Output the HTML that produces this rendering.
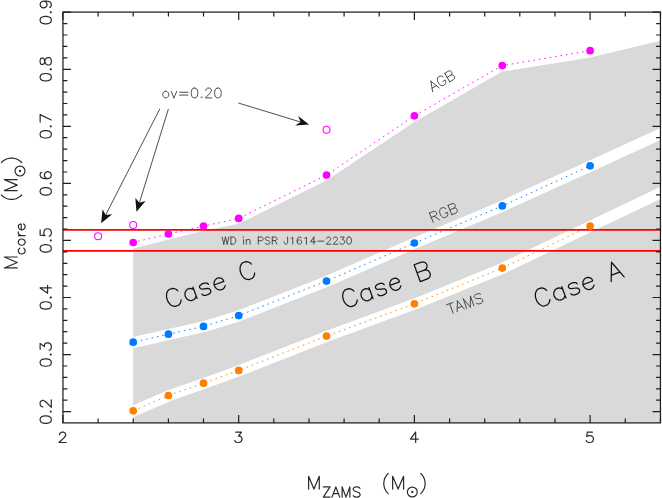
<!DOCTYPE html>
<html><head><meta charset="utf-8"><title>Core mass vs ZAMS mass</title>
<style>html,body{margin:0;padding:0;background:#fff}body{width:662px;height:498px;overflow:hidden;font-family:"Liberation Sans",sans-serif}</style>
</head><body>
<svg width="662" height="498" viewBox="0 0 662 498" style="display:block" role="img" aria-label="Core mass versus ZAMS mass">
<defs><clipPath id="c"><rect x="62.95" y="12.1" width="597.5" height="410.8"/></clipPath><clipPath id="g"><rect x="133.2" y="12.1" width="527.3" height="410.8"/></clipPath></defs>
<title>M_core (M_sun) versus M_ZAMS (M_sun): AGB, RGB and TAMS core masses with Case A, Case B, Case C regions; WD in PSR J1614-2230; ov=0.20</title>
<rect width="662" height="498" fill="#fff"/>
<g clip-path="url(#c)">
<path d="M133.2,248.6 L203.5,230.8 L238.6,223.7 L326.6,180.6 L414.4,121.9 L502.3,71.6 L590.2,57.4 L660.5,40.8 L660.5,422.9 L133.2,422.9Z" fill="#d9d9d9"/>
</g><g clip-path="url(#g)">
<path d="M129.2,343.5 L133.2,342.6 L168.4,334.6 L203.5,326.8 L238.7,316.0 L326.5,281.5 L414.4,243.3 L502.3,206.2 L590.1,166.2 L666.5,131.3" fill="none" stroke="#fff" stroke-width="10.9" stroke-linejoin="round"/>
<path d="M129.2,412.9 L133.2,411.2 L168.4,395.9 L203.5,383.6 L238.7,370.8 L326.5,336.5 L414.4,304.2 L502.3,268.5 L590.1,226.4 L666.5,190.0" fill="none" stroke="#fff" stroke-width="10.9" stroke-linejoin="round"/>
</g>
<path d="M133.2,242.5 L168.4,234.0 L203.5,226.1 L238.7,218.4 L326.5,175.1 L414.4,115.8 L502.3,65.6 L590.1,50.7" fill="none" stroke="#ff00ff" stroke-width="0.95" stroke-dasharray="1.5 4" stroke-dashoffset="0.6"/>
<path d="M133.2,342.2 L168.4,334.2 L203.5,326.4 L238.7,315.6 L326.5,281.1 L414.4,243.0 L502.3,205.9 L590.1,165.8" fill="none" stroke="#007aff" stroke-width="0.95" stroke-dasharray="1.5 4" stroke-dashoffset="-2.35"/>
<path d="M133.2,410.8 L168.4,395.5 L203.5,383.2 L238.7,370.4 L326.5,336.1 L414.4,303.8 L502.3,268.1 L590.1,226.1" fill="none" stroke="#ff8000" stroke-width="0.95" stroke-dasharray="1.5 4" stroke-dashoffset="-0.4"/>
<line x1="62.95" x2="660.5" y1="229.9" y2="229.9" stroke="#ff0000" stroke-width="1.85"/>
<line x1="62.95" x2="660.5" y1="250.8" y2="250.8" stroke="#ff0000" stroke-width="1.85"/>
<circle cx="133.2" cy="242.5" r="3.85" fill="#ff00ff"/>
<circle cx="168.4" cy="234.0" r="3.85" fill="#ff00ff"/>
<circle cx="203.5" cy="226.1" r="3.85" fill="#ff00ff"/>
<circle cx="238.7" cy="218.4" r="3.85" fill="#ff00ff"/>
<circle cx="326.5" cy="175.1" r="3.85" fill="#ff00ff"/>
<circle cx="414.4" cy="115.8" r="3.85" fill="#ff00ff"/>
<circle cx="502.3" cy="65.6" r="3.85" fill="#ff00ff"/>
<circle cx="590.1" cy="50.7" r="3.85" fill="#ff00ff"/>
<circle cx="133.2" cy="342.2" r="3.85" fill="#007aff"/>
<circle cx="168.4" cy="334.2" r="3.85" fill="#007aff"/>
<circle cx="203.5" cy="326.4" r="3.85" fill="#007aff"/>
<circle cx="238.7" cy="315.6" r="3.85" fill="#007aff"/>
<circle cx="326.5" cy="281.1" r="3.85" fill="#007aff"/>
<circle cx="414.4" cy="243.0" r="3.85" fill="#007aff"/>
<circle cx="502.3" cy="205.9" r="3.85" fill="#007aff"/>
<circle cx="590.1" cy="165.8" r="3.85" fill="#007aff"/>
<circle cx="133.2" cy="410.8" r="3.85" fill="#ff8000"/>
<circle cx="168.4" cy="395.5" r="3.85" fill="#ff8000"/>
<circle cx="203.5" cy="383.2" r="3.85" fill="#ff8000"/>
<circle cx="238.7" cy="370.4" r="3.85" fill="#ff8000"/>
<circle cx="326.5" cy="336.1" r="3.85" fill="#ff8000"/>
<circle cx="414.4" cy="303.8" r="3.85" fill="#ff8000"/>
<circle cx="502.3" cy="268.1" r="3.85" fill="#ff8000"/>
<circle cx="590.1" cy="226.1" r="3.85" fill="#ff8000"/>
<circle cx="98.1" cy="236.2" r="3.5" fill="none" stroke="#ff00ff" stroke-width="1.05"/>
<circle cx="133.2" cy="225.0" r="3.5" fill="none" stroke="#ff00ff" stroke-width="1.05"/>
<circle cx="326.5" cy="129.7" r="3.5" fill="none" stroke="#ff00ff" stroke-width="1.05"/>
<path d="M62.9,422.9v-8M62.9,12.1v8M98.1,422.9v-4.4M98.1,12.1v4.4M133.2,422.9v-4.4M133.2,12.1v4.4M168.4,422.9v-4.4M168.4,12.1v4.4M203.5,422.9v-4.4M203.5,12.1v4.4M238.7,422.9v-8M238.7,12.1v8M273.8,422.9v-4.4M273.8,12.1v4.4M309.0,422.9v-4.4M309.0,12.1v4.4M344.1,422.9v-4.4M344.1,12.1v4.4M379.2,422.9v-4.4M379.2,12.1v4.4M414.4,422.9v-8M414.4,12.1v8M449.6,422.9v-4.4M449.6,12.1v4.4M484.7,422.9v-4.4M484.7,12.1v4.4M519.8,422.9v-4.4M519.8,12.1v4.4M555.0,422.9v-4.4M555.0,12.1v4.4M590.1,422.9v-8M590.1,12.1v8M625.3,422.9v-4.4M625.3,12.1v4.4M660.5,422.9v-4.4M660.5,12.1v4.4M62.95,411.6h8M660.5,411.6h-8M62.95,400.2h4.4M660.5,400.2h-4.4M62.95,388.8h4.4M660.5,388.8h-4.4M62.95,377.4h4.4M660.5,377.4h-4.4M62.95,366.0h4.4M660.5,366.0h-4.4M62.95,354.6h8M660.5,354.6h-8M62.95,343.1h4.4M660.5,343.1h-4.4M62.95,331.7h4.4M660.5,331.7h-4.4M62.95,320.3h4.4M660.5,320.3h-4.4M62.95,308.9h4.4M660.5,308.9h-4.4M62.95,297.5h8M660.5,297.5h-8M62.95,286.1h4.4M660.5,286.1h-4.4M62.95,274.7h4.4M660.5,274.7h-4.4M62.95,263.3h4.4M660.5,263.3h-4.4M62.95,251.9h4.4M660.5,251.9h-4.4M62.95,240.4h8M660.5,240.4h-8M62.95,229.0h4.4M660.5,229.0h-4.4M62.95,217.6h4.4M660.5,217.6h-4.4M62.95,206.2h4.4M660.5,206.2h-4.4M62.95,194.8h4.4M660.5,194.8h-4.4M62.95,183.4h8M660.5,183.4h-8M62.95,172.0h4.4M660.5,172.0h-4.4M62.95,160.6h4.4M660.5,160.6h-4.4M62.95,149.1h4.4M660.5,149.1h-4.4M62.95,137.7h4.4M660.5,137.7h-4.4M62.95,126.3h8M660.5,126.3h-8M62.95,114.9h4.4M660.5,114.9h-4.4M62.95,103.5h4.4M660.5,103.5h-4.4M62.95,92.1h4.4M660.5,92.1h-4.4M62.95,80.7h4.4M660.5,80.7h-4.4M62.95,69.3h8M660.5,69.3h-8M62.95,57.8h4.4M660.5,57.8h-4.4M62.95,46.4h4.4M660.5,46.4h-4.4M62.95,35.0h4.4M660.5,35.0h-4.4M62.95,23.6h4.4M660.5,23.6h-4.4M62.95,12.2h8M660.5,12.2h-8" stroke="#1f1f1f" stroke-width="1.2" fill="none"/>
<rect x="62.95" y="12.1" width="597.5" height="410.8" fill="none" stroke="#1f1f1f" stroke-width="1.25"/>
<line x1="159.8" y1="108.9" x2="105.7" y2="215.0" stroke="#222" stroke-width="0.8"/>
<path d="M101.1,223.2 L102.6,209.2 L105.7,215.0 L112.2,214.2Z" fill="#111"/>
<line x1="168.4" y1="109.0" x2="139.4" y2="202.7" stroke="#222" stroke-width="0.8"/>
<path d="M136.5,211.8 L135.3,197.9 L139.4,202.7 L145.6,201.1Z" fill="#111"/>
<line x1="238.3" y1="103.0" x2="300.6" y2="122.0" stroke="#222" stroke-width="0.8"/>
<path d="M309.0,124.5 L298.2,115.9 L300.6,122.0 L295.2,125.6Z" fill="#111"/>
<path transform="translate(62.60,442.50) scale(0.52,0.49) translate(-10.0,0)" d="M4,-16 4,-17 5,-19 6,-20 8,-21 12,-21 14,-20 15,-19 16,-17 16,-15 15,-13 13,-10 3,0 17,0" fill="none" stroke="#2a2a2a" stroke-width="1.2" stroke-linecap="round" stroke-linejoin="round" vector-effect="non-scaling-stroke"/>
<path transform="translate(238.35,442.50) scale(0.52,0.49) translate(-10.0,0)" d="M5,-21 16,-21 10,-13 13,-13 15,-12 16,-11 17,-8 17,-6 16,-3 14,-1 11,0 8,0 5,-1 4,-2 3,-4" fill="none" stroke="#2a2a2a" stroke-width="1.2" stroke-linecap="round" stroke-linejoin="round" vector-effect="non-scaling-stroke"/>
<path transform="translate(414.10,442.50) scale(0.52,0.49) translate(-10.0,0)" d="M13,-21 3,-7 18,-7M13,-21 13,0" fill="none" stroke="#2a2a2a" stroke-width="1.2" stroke-linecap="round" stroke-linejoin="round" vector-effect="non-scaling-stroke"/>
<path transform="translate(589.85,442.50) scale(0.52,0.49) translate(-10.0,0)" d="M15,-21 5,-21 4,-12 5,-13 8,-14 11,-14 14,-13 16,-11 17,-8 17,-6 16,-3 14,-1 11,0 8,0 5,-1 4,-2 3,-4" fill="none" stroke="#2a2a2a" stroke-width="1.2" stroke-linecap="round" stroke-linejoin="round" vector-effect="non-scaling-stroke"/>
<path transform="translate(51.30,411.62) rotate(-90) scale(0.532) translate(-25.0,0)" d="M9,-21 6,-20 4,-17 3,-12 3,-9 4,-4 6,-1 9,0 11,0 14,-1 16,-4 17,-9 17,-12 16,-17 14,-20 11,-21 9,-21M25,-2 24,-1 25,0 26,-1 25,-2M34,-16 34,-17 35,-19 36,-20 38,-21 42,-21 44,-20 45,-19 46,-17 46,-15 45,-13 43,-10 33,0 47,0" fill="none" stroke="#2a2a2a" stroke-width="1.2" stroke-linecap="round" stroke-linejoin="round" vector-effect="non-scaling-stroke"/>
<path transform="translate(51.30,354.56) rotate(-90) scale(0.532) translate(-25.0,0)" d="M9,-21 6,-20 4,-17 3,-12 3,-9 4,-4 6,-1 9,0 11,0 14,-1 16,-4 17,-9 17,-12 16,-17 14,-20 11,-21 9,-21M25,-2 24,-1 25,0 26,-1 25,-2M35,-21 46,-21 40,-13 43,-13 45,-12 46,-11 47,-8 47,-6 46,-3 44,-1 41,0 38,0 35,-1 34,-2 33,-4" fill="none" stroke="#2a2a2a" stroke-width="1.2" stroke-linecap="round" stroke-linejoin="round" vector-effect="non-scaling-stroke"/>
<path transform="translate(51.30,297.50) rotate(-90) scale(0.532) translate(-25.0,0)" d="M9,-21 6,-20 4,-17 3,-12 3,-9 4,-4 6,-1 9,0 11,0 14,-1 16,-4 17,-9 17,-12 16,-17 14,-20 11,-21 9,-21M25,-2 24,-1 25,0 26,-1 25,-2M43,-21 33,-7 48,-7M43,-21 43,0" fill="none" stroke="#2a2a2a" stroke-width="1.2" stroke-linecap="round" stroke-linejoin="round" vector-effect="non-scaling-stroke"/>
<path transform="translate(51.30,240.44) rotate(-90) scale(0.532) translate(-25.0,0)" d="M9,-21 6,-20 4,-17 3,-12 3,-9 4,-4 6,-1 9,0 11,0 14,-1 16,-4 17,-9 17,-12 16,-17 14,-20 11,-21 9,-21M25,-2 24,-1 25,0 26,-1 25,-2M45,-21 35,-21 34,-12 35,-13 38,-14 41,-14 44,-13 46,-11 47,-8 47,-6 46,-3 44,-1 41,0 38,0 35,-1 34,-2 33,-4" fill="none" stroke="#2a2a2a" stroke-width="1.2" stroke-linecap="round" stroke-linejoin="round" vector-effect="non-scaling-stroke"/>
<path transform="translate(51.30,183.38) rotate(-90) scale(0.532) translate(-25.0,0)" d="M9,-21 6,-20 4,-17 3,-12 3,-9 4,-4 6,-1 9,0 11,0 14,-1 16,-4 17,-9 17,-12 16,-17 14,-20 11,-21 9,-21M25,-2 24,-1 25,0 26,-1 25,-2M46,-18 45,-20 42,-21 40,-21 37,-20 35,-17 34,-12 34,-7 35,-3 37,-1 40,0 41,0 44,-1 46,-3 47,-6 47,-7 46,-10 44,-12 41,-13 40,-13 37,-12 35,-10 34,-7" fill="none" stroke="#2a2a2a" stroke-width="1.2" stroke-linecap="round" stroke-linejoin="round" vector-effect="non-scaling-stroke"/>
<path transform="translate(51.30,126.32) rotate(-90) scale(0.532) translate(-25.0,0)" d="M9,-21 6,-20 4,-17 3,-12 3,-9 4,-4 6,-1 9,0 11,0 14,-1 16,-4 17,-9 17,-12 16,-17 14,-20 11,-21 9,-21M25,-2 24,-1 25,0 26,-1 25,-2M47,-21 37,0M33,-21 47,-21" fill="none" stroke="#2a2a2a" stroke-width="1.2" stroke-linecap="round" stroke-linejoin="round" vector-effect="non-scaling-stroke"/>
<path transform="translate(51.30,69.26) rotate(-90) scale(0.532) translate(-25.0,0)" d="M9,-21 6,-20 4,-17 3,-12 3,-9 4,-4 6,-1 9,0 11,0 14,-1 16,-4 17,-9 17,-12 16,-17 14,-20 11,-21 9,-21M25,-2 24,-1 25,0 26,-1 25,-2M38,-21 35,-20 34,-18 34,-16 35,-14 37,-13 41,-12 44,-11 46,-9 47,-7 47,-4 46,-2 45,-1 42,0 38,0 35,-1 34,-2 33,-4 33,-7 34,-9 36,-11 39,-12 43,-13 45,-14 46,-16 46,-18 45,-20 42,-21 38,-21" fill="none" stroke="#2a2a2a" stroke-width="1.2" stroke-linecap="round" stroke-linejoin="round" vector-effect="non-scaling-stroke"/>
<path transform="translate(51.30,12.20) rotate(-90) scale(0.532) translate(-25.0,0)" d="M9,-21 6,-20 4,-17 3,-12 3,-9 4,-4 6,-1 9,0 11,0 14,-1 16,-4 17,-9 17,-12 16,-17 14,-20 11,-21 9,-21M25,-2 24,-1 25,0 26,-1 25,-2M46,-14 45,-11 43,-9 40,-8 39,-8 36,-9 34,-11 33,-14 33,-15 34,-18 36,-20 39,-21 40,-21 43,-20 45,-18 46,-14 46,-9 45,-4 43,-1 40,0 38,0 35,-1 34,-3" fill="none" stroke="#2a2a2a" stroke-width="1.2" stroke-linecap="round" stroke-linejoin="round" vector-effect="non-scaling-stroke"/>
<path transform="translate(305.94,489.10) scale(0.667,0.612)" d="M4,-21 4,0M4,-21 12,0M20,-21 12,0M20,-21 20,0" fill="none" stroke="#2a2a2a" stroke-width="1.2" stroke-linecap="round" stroke-linejoin="round" vector-effect="non-scaling-stroke"/>
<path transform="translate(321.85,497.10) scale(0.483)" d="M17,-21 3,0M3,-21 17,-21M3,0 17,0M29,-21 21,0M29,-21 37,0M24,-7 34,-7M42,-21 42,0M42,-21 50,0M58,-21 50,0M58,-21 58,0M79,-18 77,-20 74,-21 70,-21 67,-20 65,-18 65,-16 66,-14 67,-13 69,-12 75,-10 77,-9 78,-8 79,-6 79,-3 77,-1 74,0 70,0 67,-1 65,-3" fill="none" stroke="#2a2a2a" stroke-width="1.2" stroke-linecap="round" stroke-linejoin="round" vector-effect="non-scaling-stroke"/>
<path transform="translate(381.30,489.20) scale(0.63)" d="M11,-25 9,-23 7,-20 5,-16 4,-11 4,-7 5,-2 7,2 9,5 11,7" fill="none" stroke="#2a2a2a" stroke-width="1.2" stroke-linecap="round" stroke-linejoin="round" vector-effect="non-scaling-stroke"/>
<path transform="translate(389.90,489.10) scale(0.684,0.612)" d="M4,-21 4,0M4,-21 12,0M20,-21 12,0M20,-21 20,0" fill="none" stroke="#2a2a2a" stroke-width="1.2" stroke-linecap="round" stroke-linejoin="round" vector-effect="non-scaling-stroke"/>
<circle cx="412.3" cy="492.0" r="4.95" fill="none" stroke="#2a2a2a" stroke-width="1.15"/><circle cx="412.3" cy="492.0" r="1.15" fill="#2a2a2a"/>
<path transform="translate(418.80,489.20) scale(0.63)" d="M3,-25 5,-23 7,-20 9,-16 10,-11 10,-7 9,-2 7,2 5,5 3,7" fill="none" stroke="#2a2a2a" stroke-width="1.2" stroke-linecap="round" stroke-linejoin="round" vector-effect="non-scaling-stroke"/>
<g transform="translate(17.2,270.5) rotate(-90)">
<path transform="translate(-0.20,0.00) scale(0.684,0.612)" d="M4,-21 4,0M4,-21 12,0M20,-21 12,0M20,-21 20,0" fill="none" stroke="#2a2a2a" stroke-width="1.2" stroke-linecap="round" stroke-linejoin="round" vector-effect="non-scaling-stroke"/>
<path transform="translate(15.10,7.90) scale(0.483)" d="M15,-11 13,-13 11,-14 8,-14 6,-13 4,-11 3,-8 3,-6 4,-3 6,-1 8,0 11,0 13,-1 15,-3M26,-14 24,-13 22,-11 21,-8 21,-6 22,-3 24,-1 26,0 29,0 31,-1 33,-3 34,-6 34,-8 33,-11 31,-13 29,-14 26,-14M41,-14 41,0M41,-8 42,-11 44,-13 46,-14 49,-14M53,-8 65,-8 65,-10 64,-12 63,-13 61,-14 58,-14 56,-13 54,-11 53,-8 53,-6 54,-3 56,-1 58,0 61,0 63,-1 65,-3" fill="none" stroke="#2a2a2a" stroke-width="1.2" stroke-linecap="round" stroke-linejoin="round" vector-effect="non-scaling-stroke"/>
<path transform="translate(68.60,0.00) scale(0.63)" d="M11,-25 9,-23 7,-20 5,-16 4,-11 4,-7 5,-2 7,2 9,5 11,7" fill="none" stroke="#2a2a2a" stroke-width="1.2" stroke-linecap="round" stroke-linejoin="round" vector-effect="non-scaling-stroke"/>
<path transform="translate(77.20,0.00) scale(0.684,0.612)" d="M4,-21 4,0M4,-21 12,0M20,-21 12,0M20,-21 20,0" fill="none" stroke="#2a2a2a" stroke-width="1.2" stroke-linecap="round" stroke-linejoin="round" vector-effect="non-scaling-stroke"/>
<circle cx="99.5" cy="2.8" r="4.95" fill="none" stroke="#2a2a2a" stroke-width="1.15"/><circle cx="99.5" cy="2.8" r="1.15" fill="#2a2a2a"/>
<path transform="translate(106.10,0.00) scale(0.63)" d="M3,-25 5,-23 7,-20 9,-16 10,-11 10,-7 9,-2 7,2 5,5 3,7" fill="none" stroke="#2a2a2a" stroke-width="1.2" stroke-linecap="round" stroke-linejoin="round" vector-effect="non-scaling-stroke"/>
</g>
<path transform="translate(161.30,97.90) scale(0.468)" d="M8,-14 6,-13 4,-11 3,-8 3,-6 4,-3 6,-1 8,0 11,0 13,-1 15,-3 16,-6 16,-8 15,-11 13,-13 11,-14 8,-14M21,-14 27,0M33,-14 27,0M39,-12 57,-12M39,-6 57,-6M70,-21 67,-20 65,-17 64,-12 64,-9 65,-4 67,-1 70,0 72,0 75,-1 77,-4 78,-9 78,-12 77,-17 75,-20 72,-21 70,-21M86,-2 85,-1 86,0 87,-1 86,-2M95,-16 95,-17 96,-19 97,-20 99,-21 103,-21 105,-20 106,-19 107,-17 107,-15 106,-13 104,-10 94,0 108,0M120,-21 117,-20 115,-17 114,-12 114,-9 115,-4 117,-1 120,0 122,0 125,-1 127,-4 128,-9 128,-12 127,-17 125,-20 122,-21 120,-21" fill="none" stroke="#3a3a3a" stroke-width="0.9" stroke-linecap="round" stroke-linejoin="round" vector-effect="non-scaling-stroke"/>
<path transform="translate(221.40,244.20) scale(0.3414)" d="M2,-21 7,0M12,-21 7,0M12,-21 17,0M22,-21 17,0M28,-21 28,0M28,-21 35,-21 38,-20 40,-18 41,-16 42,-13 42,-8 41,-5 40,-3 38,-1 35,0 28,0M64,-21 65,-20 66,-21 65,-22 64,-21M65,-14 65,0M73,-14 73,0M73,-10 76,-13 78,-14 81,-14 83,-13 84,-10 84,0M108,-21 108,0M108,-21 117,-21 120,-20 121,-19 122,-17 122,-14 121,-12 120,-11 117,-10 108,-10M142,-18 140,-20 137,-21 133,-21 130,-20 128,-18 128,-16 129,-14 130,-13 132,-12 138,-10 140,-9 141,-8 142,-6 142,-3 140,-1 137,0 133,0 130,-1 128,-3M149,-21 149,0M149,-21 158,-21 161,-20 162,-19 163,-17 163,-15 162,-13 161,-12 158,-11 149,-11M156,-11 163,0M194,-21 194,-5 193,-2 192,-1 190,0 188,0 186,-1 185,-2 184,-5 184,-7M204,-17 206,-18 209,-21 209,0M234,-18 233,-20 230,-21 228,-21 225,-20 223,-17 222,-12 222,-7 223,-3 225,-1 228,0 229,0 232,-1 234,-3 235,-6 235,-7 234,-10 232,-12 229,-13 228,-13 225,-12 223,-10 222,-7M244,-17 246,-18 249,-21 249,0M271,-21 261,-7 276,-7M271,-21 271,0M282,-9 300,-9M308,-16 308,-17 309,-19 310,-20 312,-21 316,-21 318,-20 319,-19 320,-17 320,-15 319,-13 317,-10 307,0 321,0M328,-16 328,-17 329,-19 330,-20 332,-21 336,-21 338,-20 339,-19 340,-17 340,-15 339,-13 337,-10 327,0 341,0M349,-21 360,-21 354,-13 357,-13 359,-12 360,-11 361,-8 361,-6 360,-3 358,-1 355,0 352,0 349,-1 348,-2 347,-4M373,-21 370,-20 368,-17 367,-12 367,-9 368,-4 370,-1 373,0 375,0 378,-1 380,-4 381,-9 381,-12 380,-17 378,-20 375,-21 373,-21" fill="none" stroke="#3a3a3a" stroke-width="0.9" stroke-linecap="round" stroke-linejoin="round" vector-effect="non-scaling-stroke"/>
<path transform="translate(432.20,91.90) rotate(-30) scale(0.47)" d="M9,-21 1,0M9,-21 17,0M4,-7 14,-7M36,-16 35,-18 33,-20 31,-21 27,-21 25,-20 23,-18 22,-16 21,-13 21,-8 22,-5 23,-3 25,-1 27,0 31,0 33,-1 35,-3 36,-5 36,-8M31,-8 36,-8M43,-21 43,0M43,-21 52,-21 55,-20 56,-19 57,-17 57,-15 56,-13 55,-12 52,-11M43,-11 52,-11 55,-10 56,-9 57,-7 57,-4 56,-2 55,-1 52,0 43,0" fill="none" stroke="#3a3a3a" stroke-width="0.9" stroke-linecap="round" stroke-linejoin="round" vector-effect="non-scaling-stroke"/>
<path transform="translate(431.49,223.14) rotate(-22.5) scale(0.48)" d="M4,-21 4,0M4,-21 13,-21 16,-20 17,-19 18,-17 18,-15 17,-13 16,-12 13,-11 4,-11M11,-11 18,0M39,-16 38,-18 36,-20 34,-21 30,-21 28,-20 26,-18 25,-16 24,-13 24,-8 25,-5 26,-3 28,-1 30,0 34,0 36,-1 38,-3 39,-5 39,-8M34,-8 39,-8M46,-21 46,0M46,-21 55,-21 58,-20 59,-19 60,-17 60,-15 59,-13 58,-12 55,-11M46,-11 55,-11 58,-10 59,-9 60,-7 60,-4 59,-2 58,-1 55,0 46,0" fill="none" stroke="#3a3a3a" stroke-width="0.9" stroke-linecap="round" stroke-linejoin="round" vector-effect="non-scaling-stroke"/>
<path transform="translate(449.46,314.43) rotate(-19.5) scale(0.48)" d="M8,-21 8,0M1,-21 15,-21M25,-21 17,0M25,-21 33,0M20,-7 30,-7M38,-21 38,0M38,-21 46,0M54,-21 46,0M54,-21 54,0M75,-18 73,-20 70,-21 66,-21 63,-20 61,-18 61,-16 62,-14 63,-13 65,-12 71,-10 73,-9 74,-8 75,-6 75,-3 73,-1 70,0 66,0 63,-1 61,-3" fill="none" stroke="#3a3a3a" stroke-width="0.9" stroke-linecap="round" stroke-linejoin="round" vector-effect="non-scaling-stroke"/>
<path transform="translate(168.00,309.10) rotate(-20) scale(0.86)" d="M18,-16 17,-18 15,-20 13,-21 9,-21 7,-20 5,-18 4,-16 3,-13 3,-8 4,-5 5,-3 7,-1 9,0 13,0 15,-1 17,-3 18,-5M36,-14 36,0M36,-11 34,-13 32,-14 29,-14 27,-13 25,-11 24,-8 24,-6 25,-3 27,-1 29,0 32,0 34,-1 36,-3M54,-11 53,-13 50,-14 47,-14 44,-13 43,-11 44,-9 46,-8 51,-7 53,-6 54,-4 54,-3 53,-1 50,0 47,0 44,-1 43,-3M60,-8 72,-8 72,-10 71,-12 70,-13 68,-14 65,-14 63,-13 61,-11 60,-8 60,-6 61,-3 63,-1 65,0 68,0 70,-1 72,-3M109,-16 108,-18 106,-20 104,-21 100,-21 98,-20 96,-18 95,-16 94,-13 94,-8 95,-5 96,-3 98,-1 100,0 104,0 106,-1 108,-3 109,-5" fill="none" stroke="#111" stroke-width="1.25" stroke-linecap="round" stroke-linejoin="round" vector-effect="non-scaling-stroke"/>
<path transform="translate(344.20,309.24) rotate(-20) scale(0.852)" d="M18,-16 17,-18 15,-20 13,-21 9,-21 7,-20 5,-18 4,-16 3,-13 3,-8 4,-5 5,-3 7,-1 9,0 13,0 15,-1 17,-3 18,-5M36,-14 36,0M36,-11 34,-13 32,-14 29,-14 27,-13 25,-11 24,-8 24,-6 25,-3 27,-1 29,0 32,0 34,-1 36,-3M54,-11 53,-13 50,-14 47,-14 44,-13 43,-11 44,-9 46,-8 51,-7 53,-6 54,-4 54,-3 53,-1 50,0 47,0 44,-1 43,-3M60,-8 72,-8 72,-10 71,-12 70,-13 68,-14 65,-14 63,-13 61,-11 60,-8 60,-6 61,-3 63,-1 65,0 68,0 70,-1 72,-3M95,-21 95,0M95,-21 104,-21 107,-20 108,-19 109,-17 109,-15 108,-13 107,-12 104,-11M95,-11 104,-11 107,-10 108,-9 109,-7 109,-4 108,-2 107,-1 104,0 95,0" fill="none" stroke="#111" stroke-width="1.25" stroke-linecap="round" stroke-linejoin="round" vector-effect="non-scaling-stroke"/>
<path transform="translate(536.85,308.66) rotate(-20) scale(0.86)" d="M18,-16 17,-18 15,-20 13,-21 9,-21 7,-20 5,-18 4,-16 3,-13 3,-8 4,-5 5,-3 7,-1 9,0 13,0 15,-1 17,-3 18,-5M36,-14 36,0M36,-11 34,-13 32,-14 29,-14 27,-13 25,-11 24,-8 24,-6 25,-3 27,-1 29,0 32,0 34,-1 36,-3M54,-11 53,-13 50,-14 47,-14 44,-13 43,-11 44,-9 46,-8 51,-7 53,-6 54,-4 54,-3 53,-1 50,0 47,0 44,-1 43,-3M60,-8 72,-8 72,-10 71,-12 70,-13 68,-14 65,-14 63,-13 61,-11 60,-8 60,-6 61,-3 63,-1 65,0 68,0 70,-1 72,-3M100,-21 92,0M100,-21 108,0M95,-7 105,-7" fill="none" stroke="#111" stroke-width="1.25" stroke-linecap="round" stroke-linejoin="round" vector-effect="non-scaling-stroke"/>
</svg>
</body></html>
